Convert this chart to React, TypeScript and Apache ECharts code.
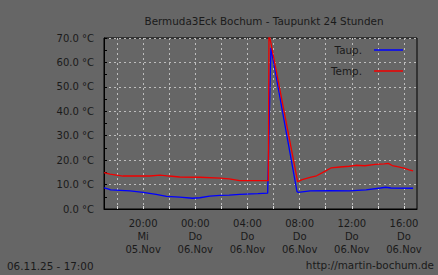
import React, { useEffect, useRef } from "react";
import * as echarts from "echarts";

// hours since 05.Nov 00:00
const taupHours = [17.0, 17.3, 17.5, 19.0, 20.0, 21.0, 21.8, 22.8, 23.8, 24.35, 25.1, 25.9, 26.6, 27.4, 28.8, 29.55, 29.62, 29.72, 29.8, 31.8, 31.9, 32.8, 34.3, 35.8, 37.1, 38.2, 38.6, 39.0, 40.7];
const taupValues = [8.6, 8.2, 7.8, 7.4, 6.8, 6.0, 5.2, 4.9, 4.4, 4.6, 5.3, 5.6, 5.7, 6.0, 6.3, 6.5, 23, 49, 66, 7.1, 6.8, 7.4, 7.5, 7.4, 7.8, 8.6, 8.9, 8.6, 8.5];

const tempHours = [17.0, 17.45, 18.45, 20.5, 21.3, 22.0, 22.8, 24.35, 25.9, 26.6, 27.4, 29.6, 29.65, 31.85, 32.2, 32.8, 33.3, 34.0, 34.4, 35.1, 35.8, 36.3, 37.0, 37.8, 38.5, 38.8, 39.1, 39.5, 40.0, 40.4, 40.7];
const tempValues = [14.9, 14.3, 13.5, 13.5, 13.9, 13.5, 13.1, 13.0, 12.6, 12.3, 11.6, 11.6, 72, 11.2, 12.0, 12.9, 13.6, 15.6, 16.8, 17.2, 17.5, 17.9, 17.7, 18.3, 18.5, 18.7, 17.8, 17.3, 16.7, 16.0, 15.6];

const gridHours = [18, 20, 22, 24, 26, 28, 30, 32, 34, 36, 38, 40];
const labelHours = [20, 24, 28, 32, 36, 40];
const labelTexts = ["20:00\nMi\n05.Nov", "00:00\nDo\n06.Nov", "04:00\nDo\n06.Nov", "08:00\nDo\n06.Nov", "12:00\nDo\n06.Nov", "16:00\nDo\n06.Nov"];

const seriesNames = ["Taup.", "Temp."];
const titleText = "Bermuda3Eck Bochum - Taupunkt 24 Stunden";
const footerLeft = "06.11.25 - 17:00";
const footerRight = "http://martin-bochum.de";

const FONT = "DejaVu Sans";
const TXT = "#1a1a1a";

export default function App() {
  const ref = useRef<HTMLDivElement>(null);
  useEffect(() => {
    if (!ref.current) return;
    const chart = echarts.init(ref.current, undefined, { renderer: "svg" });
    chart.setOption({
      animation: false,
      backgroundColor: "#666666",
      textStyle: { fontFamily: FONT },
      title: {
        text: titleText,
        left: 259,
        textAlign: "center",
        top: 11,
        textStyle: { fontFamily: FONT, fontSize: 10.4, fontWeight: "normal", color: TXT },
      },
      legend: {
        orient: "vertical",
        right: 30,
        top: 40,
        align: "right",
        itemWidth: 29,
        itemHeight: 1.5,
        itemGap: 11,
        icon: "rect",
        textStyle: { fontFamily: FONT, fontSize: 10.4, color: TXT, width: 30, align: "right", padding: [0, 7, 0, 0] },
        data: seriesNames,
      },
      grid: {
        left: 104,
        right: 21,
        top: 38,
        bottom: 66,
        show: true,
        borderColor: "#000",
        borderWidth: 1,
        backgroundColor: "transparent",
      },
      xAxis: {
        type: "value",
        min: 17,
        max: 41,
        axisLine: { show: true, lineStyle: { color: "#000", width: 1 } },
        axisTick: { show: true, inside: true, length: 3, customValues: gridHours, lineStyle: { color: "#d8d8d8" } },
        splitLine: { show: true, lineStyle: { color: "#bdbdbd", type: [2, 3], width: 1 } },
        axisLabel: {
          customValues: labelHours,
          margin: 8,
          lineHeight: 13,
          fontFamily: FONT,
          fontSize: 10,
          color: TXT,
          formatter: (v: number) => {
            const i = labelHours.indexOf(Math.round(v));
            return i >= 0 ? labelTexts[i] : "";
          },
        },
      },
      yAxis: {
        type: "value",
        min: 0,
        max: 70,
        interval: 10,
        axisLine: { show: true, lineStyle: { color: "#000", width: 1 } },
        axisTick: { show: true, inside: true, length: 3, lineStyle: { color: "#000" } },
        minorTick: { show: true, splitNumber: 2, length: 3, lineStyle: { color: "#000" } },
        splitLine: { show: true, lineStyle: { color: "#bdbdbd", type: [2, 3], width: 1 } },
        axisLabel: {
          margin: 10,
          fontFamily: FONT,
          fontSize: 10,
          color: TXT,
          formatter: (v: number) => v.toFixed(1) + " °C",
        },
      },
      series: [
        {
          name: seriesNames[0],
          type: "line",
          data: taupHours.map((h, i) => [h, taupValues[i]]),
          showSymbol: false,
          symbol: "none",
          color: "#0000ff",
          lineStyle: { color: "#0000ff", width: 1.3 },
          clip: true,
          z: 2,
        },
        {
          name: seriesNames[1],
          type: "line",
          data: tempHours.map((h, i) => [h, tempValues[i]]),
          showSymbol: false,
          symbol: "none",
          color: "#f00000",
          lineStyle: { color: "#f00000", width: 1.3 },
          clip: true,
          z: 3,
        },
      ],
      graphic: [
        {
          type: "text",
          left: 7,
          top: 261,
          style: { text: footerLeft, font: `10.4px '${FONT}'`, fill: TXT },
        },
        {
          type: "text",
          right: 4,
          top: 260,
          style: { text: footerRight, font: `10.4px '${FONT}'`, fill: TXT },
        },
      ],
    });
    return () => chart.dispose();
  }, []);
  return <div ref={ref} style={{ position: "fixed", left: 0, top: 0, width: 438, height: 275 }} />;
}
